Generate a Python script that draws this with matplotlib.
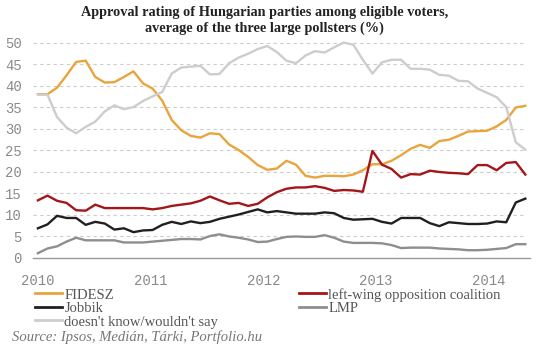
import matplotlib
matplotlib.use('Agg')
import matplotlib.pyplot as plt
from matplotlib.lines import Line2D

# approx. monthly poll averages, Jan 2010 - Apr 2014
years = ['2010', '2011', '2012', '2013', '2014']
year_pos = [0, 11.8, 23.6, 35.4, 47.2]

fidesz = [38, 38, 39.5, 42.4, 45.5, 45.8, 42, 40.7, 40.8, 42, 43.3, 40.5,
          39.3, 36.5, 32, 29.6, 28.3, 27.9, 28.9, 28.7, 26.3, 25, 23.4, 21.5,
          20.4, 20.7, 22.5, 21.6, 19, 18.6, 19, 19, 18.9, 19.3, 20.3, 21.7,
          21.7, 22.5, 23.8, 25.3, 26.2, 25.5, 27.1, 27.4, 28.3, 29.3, 29.4, 29.5,
          30.5, 32, 34.9, 35.3]
baloldal = [13.3, 14.4, 13.2, 12.7, 11, 10.9, 12.3, 11.5, 11.5, 11.5, 11.5, 11.5,
            11.2, 11.5, 12, 12.3, 12.6, 13.2, 14.2, 13.3, 12.5, 12.7, 12, 12.5,
            14, 15.2, 16, 16.3, 16.3, 16.6, 16.2, 15.5, 15.7, 15.6, 15.3, 24.8,
            21.6, 20.6, 18.6, 19.4, 19.3, 20.2, 19.9, 19.7, 19.6, 19.4, 21.5, 21.5,
            20.3, 22, 22.2, 19.3]
jobbik = [6.8, 7.7, 9.7, 9.2, 9.2, 7.6, 8.3, 7.9, 6.5, 6.8, 5.9, 6.3,
          6.4, 7.6, 8.3, 7.8, 8.4, 8, 8.3, 9, 9.5, 10, 10.6, 11.2,
          10.5, 10.8, 10.5, 10.2, 10.2, 10.2, 10.5, 10.3, 9.2, 8.8, 8.9, 9,
          8.3, 7.9, 9.2, 9.2, 9.2, 8, 7.3, 8.2, 8, 7.8, 7.8, 7.9,
          8.4, 8.2, 12.8, 13.7]
lmp = [1, 2.1, 2.6, 3.7, 4.6, 4, 4, 4, 4, 3.5, 3.5, 3.5,
       3.7, 3.9, 4.1, 4.3, 4.3, 4.2, 5, 5.4, 4.9, 4.6, 4.2, 3.6,
       3.7, 4.3, 4.8, 4.9, 4.8, 4.8, 5.2, 4.6, 3.7, 3.4, 3.4, 3.4,
       3.3, 2.9, 2.2, 2.3, 2.3, 2.3, 2.1, 2, 1.9, 1.7, 1.7, 1.8,
       2, 2.2, 3.1, 3.1]
nemtudja = [37.9, 37.9, 32.7, 30.2, 28.9, 30.4, 31.6, 34, 35.4, 34.5, 35, 36.4,
            37.5, 38.5, 42.8, 44.2, 44.4, 44.6, 42.6, 42.7, 45.2, 46.5, 47.4, 48.5,
            49.2, 47.8, 45.8, 45.2, 47, 48, 47.7, 48.9, 50, 49.5, 46, 42.8,
            45.4, 46, 46, 43.9, 43.9, 43.7, 42.5, 42.3, 41.1, 41, 39.3, 38.3,
            37.3, 35, 26.8, 25.1]

c_fidesz = '#E9A43C'
c_bal = '#A3161A'
c_jobbik = '#231F20'
c_lmp = '#8E8E8E'
c_nt = '#CDCDCD'

fig = plt.figure(figsize=(5.4, 3.48), dpi=100)
ax = fig.add_axes([0.061, 0.26, 0.92, 0.63])

x = list(range(len(fidesz)))
lw = 1.7
ax.plot(x, lmp, color=c_lmp, lw=lw, zorder=3)
ax.plot(x, jobbik, color=c_jobbik, lw=lw, zorder=3)
ax.plot(x, fidesz, color=c_fidesz, lw=lw, zorder=3)
ax.plot(x, baloldal, color=c_bal, lw=lw, zorder=4)
ax.plot(x, nemtudja, color=c_nt, lw=lw, zorder=5)

ax.set_xlim(-0.52, 51.46)
ax.set_ylim(0, 51)
ax.set_yticks(range(0, 51, 5))
ax.set_xticks(year_pos)
ax.set_xticklabels(years)
for s in ['top', 'right', 'left']:
    ax.spines[s].set_visible(False)
ax.spines['bottom'].set_color('#999999')
ax.spines['bottom'].set_linewidth(1)
for yv in range(5, 51, 5):
    ax.axhline(yv, color='#CCCCCC', lw=0.8, ls=(0, (3, 3)), zorder=1, xmax=0.993)
ax.tick_params(length=0, labelsize=10, labelcolor='#8A8A8A')
ax.tick_params(axis='y', pad=8)
ax.tick_params(axis='x', pad=12)
for t in ax.get_xticklabels() + ax.get_yticklabels():
    t.set_family('Liberation Mono')

fig.text(0.49, 0.965, 'Approval rating of Hungarian parties among eligible voters,',
         ha='center', va='center', family='Liberation Serif', weight='bold', fontsize=10.3, color='#222222')
fig.text(0.49, 0.918, 'average of the three large pollsters (%)',
         ha='center', va='center', family='Liberation Serif', weight='bold', fontsize=10.3, color='#222222')

handles = [Line2D([], [], color=c_fidesz, lw=2), Line2D([], [], color=c_jobbik, lw=2),
           Line2D([], [], color=c_nt, lw=2), Line2D([], [], color=c_bal, lw=2),
           Line2D([], [], color=c_lmp, lw=2)]
labels = ['FIDESZ', 'Jobbik', "doesn't know/wouldn't say",
          'left-wing opposition coalition', 'LMP']
leg = fig.legend(handles, labels, ncol=2, loc='upper left', bbox_to_anchor=(0.065, 0.173),
                 frameon=False, prop={'family': 'Liberation Serif', 'size': 10.5},
                 handlelength=1.85, handletextpad=0.15, labelspacing=0.02,
                 columnspacing=5.55, borderpad=0, borderaxespad=0)
for t in leg.get_texts():
    t.set_color('#555555')

fig.text(0.022, 0.03, 'Source: Ipsos, Medián, Tárki, Portfolio.hu', family='Liberation Serif',
         style='italic', fontsize=10.5, color='#777777', va='center')

fig.savefig('out.png', dpi=100)
